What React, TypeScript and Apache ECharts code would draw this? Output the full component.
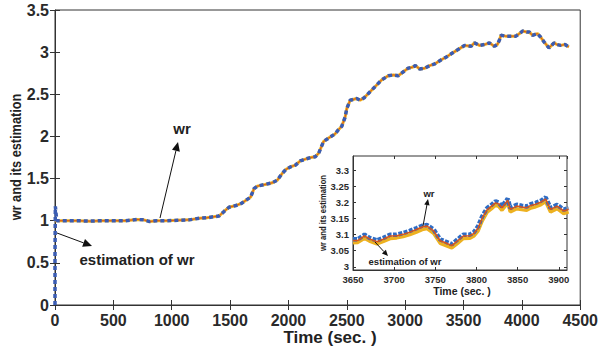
import React, { useEffect, useRef } from "react";
import * as echarts from "echarts";

// ---- main chart data ----
const mainT = [0, 100, 200, 300, 400, 500, 600, 700, 760, 810, 870, 950, 1050, 1150, 1236, 1300, 1406, 1449, 1491, 1550, 1602, 1676, 1705, 1733, 1800, 1861, 1904, 1946, 1980, 2020, 2060, 2102, 2145, 2190, 2230, 2259, 2301, 2344, 2400, 2429, 2457, 2486, 2500, 2529, 2585, 2614, 2650, 2685, 2742, 2798, 2855, 2900, 2940, 2969, 3026, 3060, 3088, 3125, 3168, 3210, 3253, 3310, 3350, 3395, 3452, 3509, 3565, 3594, 3637, 3680, 3722, 3764, 3790, 3807, 3821, 3860, 3900, 3949, 3980, 4006, 4040, 4063, 4091, 4134, 4160, 4191, 4233, 4276, 4300, 4332, 4370, 4403];
const mainWr = [1.0, 1.0, 1.0, 0.995, 1.0, 1.0, 1.0, 1.015, 1.01, 0.99, 1.0, 1.0, 1.005, 1.01, 1.03, 1.035, 1.056, 1.11, 1.16, 1.18, 1.21, 1.28, 1.38, 1.41, 1.43, 1.45, 1.48, 1.56, 1.61, 1.64, 1.66, 1.71, 1.73, 1.75, 1.76, 1.8, 1.94, 1.98, 2.03, 2.08, 2.12, 2.23, 2.33, 2.43, 2.45, 2.43, 2.46, 2.51, 2.59, 2.67, 2.72, 2.73, 2.72, 2.75, 2.81, 2.82, 2.84, 2.8, 2.81, 2.84, 2.86, 2.91, 2.94, 2.98, 3.03, 3.08, 3.07, 3.11, 3.08, 3.09, 3.11, 3.07, 3.09, 3.14, 3.2, 3.19, 3.19, 3.19, 3.22, 3.25, 3.24, 3.24, 3.2, 3.22, 3.18, 3.12, 3.05, 3.11, 3.09, 3.08, 3.09, 3.06];
// estimation start-up transient (then it follows wr)
const estStartT = [0, 0, 3, 15];
const estStartV = [0, 0.6, 1.17, 1.0];

// ---- inset data ----
const insetT = [3650, 3656, 3664, 3670, 3679, 3687, 3695, 3703, 3711, 3719, 3727, 3734, 3740, 3748, 3756, 3763, 3770, 3777, 3784, 3792, 3797, 3802, 3807, 3813, 3818, 3823, 3827, 3831, 3838, 3841, 3849, 3855, 3861, 3866, 3872, 3878, 3884, 3890, 3898, 3906, 3912];
const insetBlue = [3.086, 3.086, 3.1, 3.09, 3.082, 3.09, 3.1, 3.1, 3.105, 3.112, 3.12, 3.128, 3.13, 3.116, 3.085, 3.078, 3.07, 3.085, 3.1, 3.1, 3.108, 3.126, 3.157, 3.183, 3.192, 3.204, 3.2, 3.188, 3.212, 3.183, 3.193, 3.19, 3.188, 3.195, 3.199, 3.205, 3.216, 3.183, 3.193, 3.178, 3.183];
const insetRed = [3.082, 3.082, 3.096, 3.087, 3.078, 3.086, 3.096, 3.097, 3.101, 3.108, 3.116, 3.124, 3.127, 3.112, 3.081, 3.074, 3.066, 3.081, 3.096, 3.097, 3.104, 3.121, 3.152, 3.178, 3.188, 3.199, 3.196, 3.184, 3.207, 3.179, 3.189, 3.186, 3.184, 3.191, 3.195, 3.201, 3.211, 3.179, 3.189, 3.174, 3.179];
const insetYellow = [3.075, 3.076, 3.089, 3.08, 3.071, 3.079, 3.088, 3.09, 3.094, 3.1, 3.108, 3.116, 3.119, 3.104, 3.073, 3.066, 3.059, 3.073, 3.088, 3.089, 3.096, 3.112, 3.143, 3.17, 3.18, 3.192, 3.188, 3.176, 3.199, 3.171, 3.181, 3.178, 3.176, 3.183, 3.187, 3.193, 3.203, 3.171, 3.181, 3.166, 3.171];

const insetYTicks = [3, 3.05, 3.1, 3.15, 3.2, 3.25, 3.3];

const FONT = "'Liberation Sans', Arial, sans-serif";
const AX = "#333";

function arrow(x1: number, y1: number, x2: number, y2: number, head: number) {
  const a = Math.atan2(y2 - y1, x2 - x1);
  const w = head * 0.45;
  const bx = x2 - head * Math.cos(a);
  const by = y2 - head * Math.sin(a);
  const px = -Math.sin(a) * w;
  const py = Math.cos(a) * w;
  return [
    { type: "line", shape: { x1, y1, x2: bx, y2: by }, style: { stroke: "#111", lineWidth: 1 }, z: 100 },
    { type: "polygon", shape: { points: [[x2, y2], [bx + px, by + py], [bx - px, by - py]] }, style: { fill: "#111" }, z: 100 },
  ];
}

function txt(x: number, y: number, text: string, size: number, rot = 0, sx = 1) {
  return {
    type: "text", x, y, rotation: rot, scaleX: sx, z: 100,
    style: { text, fontSize: size, fontWeight: "bold", fontFamily: FONT, fill: "#222", align: "center", verticalAlign: "middle" },
  };
}

const plain = (v: number) => String(v);

export default function App() {
  const ref = useRef<HTMLDivElement>(null);
  useEffect(() => {
    document.body.style.margin = "0";
    const chart = echarts.init(ref.current!, null, { renderer: "svg" });
    const wrPairs = mainT.map((t, i) => [t, mainWr[i]]);
    const estPairs = estStartT.map((t, i) => [t, estStartV[i]]).concat(wrPairs.filter((p) => p[0] > 15));
    const iB = insetT.map((t, i) => [t, insetBlue[i]]);
    const iR = insetT.map((t, i) => [t, insetRed[i]]);
    const iY = insetT.map((t, i) => [t, insetYellow[i]]);

    const mainLabel = { fontSize: 16, fontWeight: "bold", fontFamily: FONT, color: "#2a2a2a", formatter: plain };
    const insetLabel = { fontSize: 9.5, fontWeight: "bold", fontFamily: FONT, color: "#2a2a2a", formatter: plain };

    const option: any = {
      animation: false,
      backgroundColor: "#fff",
      grid: [
        { left: 55, top: 10, width: 528, height: 295, show: true, borderColor: AX, borderWidth: 1, backgroundColor: "#fff" },
        { left: 353, top: 156, width: 214, height: 114, show: true, borderColor: AX, borderWidth: 1, backgroundColor: "#fff", z: 10 },
      ],
      xAxis: [
        { type: "value", gridIndex: 0, min: 0, max: 4500, interval: 500, position: "bottom",
          axisLine: { show: true, lineStyle: { color: AX } }, axisTick: { inside: true, length: 5, lineStyle: { color: AX } },
          axisLabel: { ...mainLabel, margin: 7 }, splitLine: { show: false } },
        { type: "value", gridIndex: 0, min: 0, max: 4500, interval: 500, position: "top",
          axisLine: { show: false }, axisTick: { inside: true, length: 5, lineStyle: { color: AX } },
          axisLabel: { show: false }, splitLine: { show: false } },
        { type: "value", gridIndex: 1, min: 3650, max: 3910, interval: 50, position: "bottom", z: 11,
          axisLine: { show: true, lineStyle: { color: AX } }, axisTick: { inside: true, length: 3, lineStyle: { color: AX } },
          axisLabel: { ...insetLabel, margin: 4, showMaxLabel: false }, splitLine: { show: false } },
        { type: "value", gridIndex: 1, min: 3650, max: 3910, interval: 50, position: "top", z: 11,
          axisLine: { show: false }, axisTick: { inside: true, length: 3, lineStyle: { color: AX } },
          axisLabel: { show: false }, splitLine: { show: false } },
      ],
      yAxis: [
        { type: "value", gridIndex: 0, min: 0, max: 3.5, interval: 0.5, position: "left",
          axisLine: { show: true, lineStyle: { color: AX } }, axisTick: { inside: true, length: 5, lineStyle: { color: AX } },
          axisLabel: { ...mainLabel, margin: 6 }, splitLine: { show: false } },
        { type: "value", gridIndex: 0, min: 0, max: 3.5, interval: 0.5, position: "right",
          axisLine: { show: false }, axisTick: { inside: true, length: 5, lineStyle: { color: AX } },
          axisLabel: { show: false }, splitLine: { show: false } },
        { type: "value", gridIndex: 1, min: 2.99, max: 3.345, position: "left", z: 11,
          axisLine: { show: true, lineStyle: { color: AX } },
          axisTick: { inside: true, length: 3, customValues: insetYTicks, lineStyle: { color: AX } },
          axisLabel: { ...insetLabel, margin: 4, customValues: insetYTicks }, splitLine: { show: false } },
        { type: "value", gridIndex: 1, min: 2.99, max: 3.345, position: "right", z: 11,
          axisLine: { show: false },
          axisTick: { inside: true, length: 3, customValues: insetYTicks, lineStyle: { color: AX } },
          axisLabel: { show: false }, splitLine: { show: false } },
      ],
      series: [
        { type: "line", xAxisIndex: 0, yAxisIndex: 0, data: wrPairs, showSymbol: false, z: 2,
          lineStyle: { color: "#EDB120", width: 3 } },
        { type: "line", xAxisIndex: 0, yAxisIndex: 0, data: wrPairs, showSymbol: false, z: 3,
          lineStyle: { color: "#D95319", width: 1 } },
        { type: "line", xAxisIndex: 0, yAxisIndex: 0, data: estPairs, showSymbol: false, z: 4,
          lineStyle: { color: "#3a5cb3", width: 3.5, type: [4, 3] } },
        { type: "line", xAxisIndex: 2, yAxisIndex: 2, data: iY, showSymbol: false, z: 12, clip: true,
          lineStyle: { color: "#EDB120", width: 3.5 } },
        { type: "line", xAxisIndex: 2, yAxisIndex: 2, data: iB, showSymbol: false, z: 13, clip: true,
          lineStyle: { color: "#2f6cc4", width: 4.5, type: [4, 1.5] } },
        { type: "line", xAxisIndex: 2, yAxisIndex: 2, data: iR, showSymbol: false, z: 14, clip: true,
          lineStyle: { color: "#D95319", width: 1.5 } },
      ],
      graphic: [
        txt(330, 337, "Time (sec. )", 17),
        txt(16, 157, "wr and its estimation", 15, Math.PI / 2, 0.85),
        txt(182, 128, "wr", 15),
        txt(137, 259, "estimation of wr", 15),
        ...arrow(160, 218, 178, 142, 9),
        ...arrow(57, 233, 92, 246, 9),
        txt(462, 291, "Time (sec. )", 10.5),
        txt(323, 213, "wr and its estimation", 9, Math.PI / 2, 0.85),
        txt(429, 193, "wr", 9.5),
        txt(405, 261, "estimation of wr", 9.5),
        ...arrow(423, 226, 428, 199, 6),
        ...arrow(375, 242, 388, 256, 6),
      ],
    };
    chart.setOption(option);
    return () => chart.dispose();
  }, []);
  return <div ref={ref} style={{ width: 601, height: 351 }} />;
}
